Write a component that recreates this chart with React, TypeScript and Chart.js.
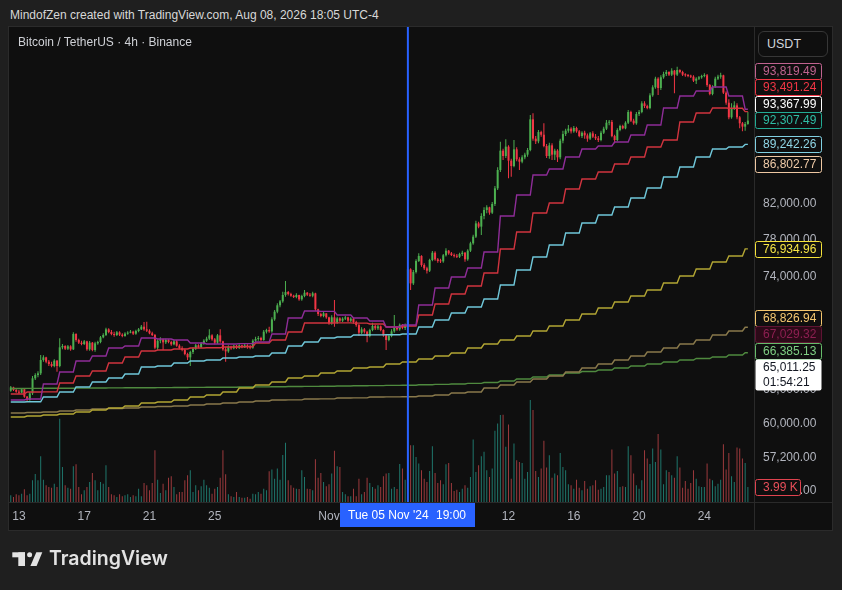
import React, { useEffect, useRef } from "react";
import { Chart, registerables } from "chart.js";

Chart.register(...registerables);

// ---------- DATA (BTCUSDT 4h, Binance) ----------
const firstOpen = 62902;

const closes = [
  63202, 62961, 62813, 62724, 63021, 62369, 62073, 62665, 64014, 64319,
  64471, 65702, 65953, 65548, 65331, 65145, 65640, 65145, 66895, 67023,
  66768, 66991, 66705, 68175, 67595, 67341, 67213, 67468, 66705, 67341,
  66641, 67277, 67404, 67853, 68079, 68627, 68369, 68175, 68079, 68337,
  68111, 67982, 68208, 68304, 68401, 68208, 68466, 68627, 68889, 68627,
  68498, 68240, 68079, 66864, 67531, 67660, 67372, 67595, 67404, 67181,
  67468, 67055, 66832, 66641, 66266, 65953, 66453, 66768, 67087, 66927,
  67277, 67531, 67724, 68047, 67660, 67341, 68047, 67468, 66705, 66516,
  66959, 66800, 67055, 66832, 67087, 66895, 67087, 66959, 66864, 67531,
  67692, 67789, 67595, 68399, 68562, 68431, 69609, 70370, 71014, 71411,
  72058, 72363, 72155, 71986, 71854, 72058, 71615, 71956, 72294, 72089,
  71986, 72226, 70606, 70139, 69941, 70206, 69808, 69211, 69808, 69277,
  69709, 69477, 69676, 69808, 69477, 69676, 69345, 69045, 68300, 68627,
  68399, 67982, 68562, 68955, 68725, 68922, 68562, 68047, 67595, 67982,
  68431, 68824, 68627, 69078, 68758, 69045, 74733, 73258, 74448, 75622,
  76170, 75196, 74840, 74591, 75730, 76520, 75802, 75622, 75586, 76243,
  76740, 76447, 76264, 76155, 76082, 76374, 76520, 75802, 76740, 77546,
  78283, 79775, 79404, 80615, 81304, 81614, 80996, 82003, 83846, 86057,
  88453, 87787, 88959, 87205, 86542, 88621, 87371, 87080, 87621, 87954,
  88537, 92480, 89975, 89633, 90827, 90479, 89043, 87787, 89128, 87954,
  88453, 87621, 89718, 90566, 91001, 91262, 90914, 91349, 90914, 90305,
  90740, 90392, 89975, 90653, 90230, 90017, 89804, 90740, 91262, 92040,
  92128, 90305, 89804, 91088, 91610, 91305, 92040, 93449, 92304, 91958,
  93184, 93449, 94602, 94242, 93981, 95688, 96782, 97980, 96690, 98167,
  98633, 98913, 98540, 99100, 98540, 99193, 98913, 98540, 98447, 98353,
  98260, 97700, 97980, 98167, 98353, 98447, 97103, 95872, 96874, 97980,
  98260, 98447, 96047, 94692, 92745, 93937, 94334, 92745, 91958, 91523,
  91872, 92307,
];

const highs = [
  63322, 63262, 63082, 62961, 63112, 63082, 62428, 62783, 64227, 64471,
  64654, 66172, 66140, 66015, 65702, 65548, 65765, 65702, 67756, 67213,
  67087, 67118, 67087, 68337, 68240, 67724, 67531, 67595, 67531, 67500,
  67404, 67436, 67531, 67982, 68240, 68791, 68726, 68562, 68401, 68466,
  68434, 68240, 68337, 68434, 68562, 68498, 68595, 68758, 69053, 69347,
  69380, 68627, 68401, 68175, 67660, 67853, 67724, 67724, 67660, 67531,
  67595, 67595, 67181, 66991, 66768, 66391, 66578, 66895, 67213, 67181,
  67404, 67660, 67917, 68627, 68143, 67788, 68175, 68627, 67531, 66959,
  67087, 67055, 67150, 67118, 67181, 67150, 67213, 67181, 67118, 67660,
  67917, 67982, 67917, 68562, 68693, 68889, 69808, 70538, 71218, 71547,
  72399, 73504, 72467, 72294, 72089, 72226, 72089, 72089, 72570, 72363,
  72260, 72399, 72294, 70673, 70272, 70339, 70206, 69875, 70007, 71547,
  69875, 69808, 69808, 69941, 69875, 69808, 69742, 69477, 69145, 68824,
  68758, 68497, 68693, 69280, 69078, 69045, 69012, 68627, 68170, 68170,
  68627, 70037, 68955, 69211, 69145, 69211, 74947, 74840, 74662, 75802,
  76463, 76243, 75374, 75018, 75874, 76703, 76667, 75946, 75874, 76389,
  76996, 76813, 76593, 76447, 76374, 76520, 76740, 76593, 76886, 77729,
  78507, 80077, 79966, 80920, 81614, 81850, 81693, 82231, 84123, 86385,
  89591, 88706, 89890, 89128, 87454, 89804, 88874, 87621, 87871, 88200,
  88790, 93053, 93277, 90317, 91088, 91001, 91958, 89292, 89462, 89380,
  88706, 88621, 89975, 91001, 91262, 91740, 91436, 91610, 91523, 91088,
  90914, 91001, 90653, 90827, 90914, 90566, 90305, 91001, 91523, 92392,
  92392, 92392, 90479, 91305, 91784, 91784, 92216, 93714, 93625, 92568,
  93449, 93714, 94873, 94873, 94423, 95960, 97063, 98260, 98167, 98448,
  98960, 99193, 99006, 99430, 99193, 99667, 99288, 99100, 98727, 98633,
  98540, 98447, 98167, 98353, 98540, 98727, 98633, 97240, 97057, 98260,
  98540, 98820, 98540, 96230, 95144, 94602, 94873, 94602, 92921, 92128,
  92128, 93490,
];

const lows = [
  62813, 62872, 62724, 62606, 62665, 62280, 61927, 62017, 62517, 63862,
  64105, 64319, 65548, 65393, 65145, 65022, 65022, 64623, 65022, 66705,
  66641, 66641, 66578, 66641, 67436, 67213, 67087, 67118, 66578, 66578,
  66516, 66485, 67150, 67277, 67756, 67982, 68240, 68047, 67917, 67982,
  67982, 67853, 67917, 68111, 68240, 68079, 68111, 68337, 68562, 68498,
  68369, 68143, 67982, 66705, 66641, 67277, 66641, 67213, 67277, 67055,
  67087, 66959, 66705, 66516, 66140, 65702, 65145, 66266, 66641, 66800,
  66832, 67150, 67404, 67595, 67531, 67181, 67213, 67341, 66578, 65548,
  66391, 66673, 66705, 66737, 66737, 66800, 66832, 66768, 66705, 66768,
  67402, 67531, 67466, 67531, 68235, 68300, 68300, 69477, 70206, 70807,
  71278, 71888, 72020, 71888, 71752, 71718, 71480, 71480, 71820, 71956,
  71888, 71820, 70471, 69941, 69808, 69808, 69676, 69079, 69079, 68889,
  69145, 69345, 69345, 69543, 69345, 69345, 69211, 68889, 67982, 68170,
  68235, 67370, 67853, 68431, 68562, 68562, 68431, 67917, 66641, 67466,
  67853, 68300, 68497, 68497, 68627, 68562, 68889, 72570, 73085, 74306,
  75513, 75018, 74662, 74306, 74448, 75586, 75658, 75445, 75409, 75445,
  76097, 76300, 76155, 76009, 75937, 75937, 76155, 75550, 75658, 76593,
  77399, 78135, 79215, 78461, 80233, 80920, 80768, 80844, 81771, 83647,
  85815, 87288, 87538, 85046, 85248, 86385, 87122, 86057, 86872, 87371,
  87705, 88368, 89718, 89292, 89380, 90230, 88874, 87538, 87454, 87288,
  87288, 87038, 87371, 89380, 90305, 90740, 90653, 90740, 90740, 90145,
  90060, 89975, 89590, 89804, 90060, 89804, 89548, 89633, 90566, 91088,
  91694, 90145, 89380, 89633, 90914, 91175, 91175, 91872, 92128, 91784,
  91784, 92920, 93272, 93981, 93803, 93803, 95507, 96598, 95733, 96414,
  97980, 98353, 98353, 98353, 95964, 98353, 98727, 98353, 98260, 98167,
  98073, 97513, 97233, 97793, 97980, 98167, 96874, 95691, 95691, 96690,
  97793, 97980, 95872, 94423, 92480, 92568, 93714, 92480, 91305, 90914,
  91001, 91784,
];

const volumes = [
  1780, 1330, 2050, 1780, 2210, 3380, 1780, 2210, 5770, 7450,
  5770, 12160, 5930, 4440, 3990, 3800, 4870, 3990, 22080, 9310,
  4440, 3800, 3540, 9500, 10030, 3990, 2050, 3110, 3990, 5320,
  7710, 5770, 3110, 5320, 4870, 9760, 3990, 2050, 1780, 1330,
  2050, 1520, 1780, 2050, 1330, 1780, 1520, 3540, 1520, 5050,
  4440, 3110, 5050, 13750, 5930, 2390, 4870, 3110, 6460, 6840,
  3990, 2050, 2660, 2660, 5770, 7100, 8430, 2660, 4440, 3110,
  4180, 5930, 4440, 3800, 2210, 3540, 3990, 6460, 13750, 7370,
  2050, 1520, 1330, 2660, 1330, 1140, 1140, 1330, 880, 2210,
  2050, 2660, 2210, 3540, 3110, 8170, 8590, 6200, 8860, 5930,
  12500, 15690, 5770, 4440, 3800, 3540, 3460, 8430, 6650, 3540,
  3460, 3110, 11360, 6460, 7710, 5320, 4180, 4710, 7530, 13570,
  9500, 9310, 2660, 2050, 1520, 1520, 3540, 1520, 6200, 2050,
  2660, 6460, 5050, 3990, 3540, 4440, 3990, 6840, 7530, 7710,
  3540, 3990, 3460, 10110, 8860, 5930, 27930, 15080, 15080, 11970,
  10190, 8430, 6200, 5320, 8250, 14820, 7710, 5050, 5770, 4710,
  10030, 10370, 5050, 2930, 3270, 2660, 3540, 4440, 3800, 6650,
  16570, 7980, 9760, 12160, 13300, 8430, 6650, 8860, 18890, 20830,
  23060, 23140, 14630, 20560, 6200, 15510, 11090, 10640, 10370, 6200,
  7980, 27050, 24390, 8250, 6650, 8860, 16230, 9120, 12420, 6460,
  7530, 7100, 13030, 9310, 8430, 4710, 4440, 3540, 5930, 3800,
  3110, 5590, 3540, 4180, 4440, 5770, 3270, 3540, 3990, 7100,
  7100, 13910, 7530, 8250, 3990, 4180, 3990, 14820, 12420, 7530,
  4440, 3540, 5770, 13750, 11520, 10110, 14180, 10640, 18010, 13910,
  4710, 8430, 7980, 7100, 6460, 12160, 9120, 3800, 5590, 3540,
  5050, 8430, 6200, 4180, 3990, 3990, 10190, 6200, 5770, 4180,
  4870, 5930, 15350, 8590, 13030, 6840, 5320, 14440, 14180, 11520,
  10370, 3990,
];

// daily moving averages (one value per day = 6 candles)
const candlesPerDay = 6;
const maPurple = [
  62073, 62160, 63502, 64592, 65609, 66078, 66832, 67023, 67788, 67692,
  67595, 67309, 67213, 67213, 67250, 67404, 68175, 69742, 70439, 70400,
  70040, 69742, 69445, 68856, 69052, 71042, 72778, 73925, 74876, 76595,
  80616, 83057, 85450, 86180, 87663, 88664, 89044, 89550, 90446, 91740,
  93982, 95598, 96278, 96828, 95598, 93819,
];
const maRed = [
  62606, 62783, 62800, 63592, 64227, 64684, 65424, 65984, 66547, 66641,
  66736, 66832, 66850, 66927, 66950, 67309, 67595, 68369, 69249, 69250,
  69260, 69240, 69151, 68856, 68955, 70040, 71143, 72161, 72986, 74346,
  76923, 78804, 80960, 82118, 83767, 84965, 85814, 86796, 87663, 88917,
  89804, 92131, 93317, 93982, 93950, 93491,
];
const maCyan = [
  61898, 61920, 62339, 62783, 63231, 63682, 64045, 64410, 65053, 65146,
  65424, 65609, 65702, 65890, 65984, 66078, 66359, 67023, 67402, 67788,
  67885, 68078, 68090, 68100, 68175, 68856, 69543, 70240, 70841, 71649,
  73090, 74662, 76055, 77362, 78692, 79818, 80731, 81653, 82703, 83886,
  85208, 86426, 87663, 88664, 88917, 89242,
];
const maYellow = [
  60594, 60680, 60766, 60852, 61025, 61197, 61372, 61547, 61810, 61898,
  62073, 62339, 62517, 62783, 63141, 63412, 63682, 64045, 64227, 64501,
  64684, 64960, 65053, 65331, 65516, 65796, 66078, 66359, 66832, 67213,
  67595, 67982, 68464, 68954, 69543, 70141, 70740, 71345, 71956, 72570,
  73297, 74030, 74769, 75513, 76163, 76935,
];
const maGold = [
  60938, 60981, 61025, 61111, 61197, 61285, 61328, 61372, 61460, 61503,
  61547, 61635, 61722, 61810, 61898, 61985, 62073, 62090, 62162, 62175,
  62251, 62260, 62339, 62350, 62360, 62428, 62517, 62695, 62783, 63141,
  63412, 63682, 63954, 64227, 64592, 64960, 65331, 65702, 66078, 66453,
  66832, 67213, 67595, 68078, 68464, 68827,
];
const maGreen = [
  63096, 63105, 63114, 63123, 63132, 63141, 63150, 63159, 63168, 63177,
  63186, 63195, 63204, 63213, 63231, 63240, 63258, 63276, 63285, 63303,
  63321, 63339, 63357, 63375, 63393, 63430, 63466, 63502, 63556, 63637,
  63772, 63954, 64136, 64319, 64501, 64638, 64775, 64960, 65146, 65331,
  65516, 65702, 65843, 65984, 66172, 66385,
];

const priceTicks = [54600, 57200, 60000, 63000, 74000, 78000, 82000];
const timeTickIndex = [3, 27, 51, 75, 117, 183, 207, 231, 255];
const timeTickLabels = ["13", "17", "21", "25", "Nov", "12", "16", "20", "24"];

const crossIndex = 146;
const crossDate = "Tue 05 Nov '24";
const crossTime = "19:00";

const axisLabelValues = [
  93819.49, 93491.24, 93367.99, 92307.49, 89242.26, 86802.77, 76934.96, 68826.94, 67029.32, 66385.13, 65011.25,
];
const countdown = "01:54:21";

// ---------- STYLE ----------
const FONT = '"Liberation Sans", Arial, sans-serif';
const UP = "#4caf50";
const DOWN = "#f23645";
const VOL_UP = "#1f776c";
const VOL_DOWN = "#9c3a3d";
const labelStyles = [
  { bd: "#c0638f", tx: "#c0638f", bg: "#0f0f0f" },
  { bd: "#f23645", tx: "#f23645", bg: "#0f0f0f" },
  { bd: "#ffffff", tx: "#ffffff", bg: "#0f0f0f" },
  { bd: "#22ab94", tx: "#2fbfa6", bg: "#0f0f0f" },
  { bd: "#80d0e2", tx: "#8fd6e6", bg: "#0f0f0f" },
  { bd: "#eec7a2", tx: "#f0cba8", bg: "#0f0f0f" },
  { bd: "#f5e23a", tx: "#f7e645", bg: "#0f0f0f" },
  { bd: "#f4c66e", tx: "#f6c870", bg: "#0f0f0f" },
  { bd: "#5e1433", tx: "#8e1f52", bg: "#2c0a18" },
  { bd: "#66bb6a", tx: "#7fcf83", bg: "#0f0f0f" },
  { bd: "#ffffff", tx: "#131722", bg: "#ffffff" },
];

const fmtPrice = (v: number) =>
  v.toLocaleString("en-US", { minimumFractionDigits: 2, maximumFractionDigits: 2 });

function maData(values: number[], last: number) {
  const pts: { x: number; y: number }[] = [];
  values.forEach((v, b) => {
    const s = b * candlesPerDay;
    const e = Math.min(s + candlesPerDay - 1, last);
    pts.push({ x: s, y: v });
    if (e > s) pts.push({ x: e, y: v });
  });
  return pts;
}

const overlay = {
  id: "tvOverlay",
  afterDraw(chart: any) {
    const { ctx, chartArea, scales } = chart;
    const yS = scales.y;
    const vS = scales.yv;
    ctx.save();
    // pane separators
    ctx.strokeStyle = "#2a2a2a";
    ctx.lineWidth = 1;
    ctx.beginPath();
    ctx.moveTo(chartArea.right + 0.5, 27);
    ctx.lineTo(chartArea.right + 0.5, 530);
    ctx.moveTo(9, chartArea.bottom + 0.5);
    ctx.lineTo(832, chartArea.bottom + 0.5);
    ctx.stroke();

    // crosshair
    const cx = scales.x.getPixelForValue(crossIndex);
    ctx.strokeStyle = "#2962ff";
    ctx.lineWidth = 2;
    ctx.beginPath();
    ctx.moveTo(cx, chartArea.top);
    ctx.lineTo(cx, chartArea.bottom);
    ctx.stroke();
    const bw = 135;
    const bl = Math.round(cx - bw / 2);
    ctx.fillStyle = "#2962ff";
    ctx.fillRect(bl, chartArea.bottom + 1, bw, 24);
    ctx.fillStyle = "#ffffff";
    ctx.font = `12px ${FONT}`;
    ctx.textBaseline = "middle";
    ctx.textAlign = "left";
    ctx.fillText(crossDate, bl + 8, chartArea.bottom + 13.5);
    ctx.textAlign = "right";
    ctx.fillText(crossTime, bl + bw - 9, chartArea.bottom + 13.5);
    ctx.textAlign = "left";

    // price labels with stacking
    const items = axisLabelValues.map((v, k) => ({
      k,
      v,
      c: yS.getPixelForValue(v),
      extra: k === axisLabelValues.length - 1 ? 15 : 0,
    }));
    const half = 8.25;
    const sorted = [...items].sort((a, b) => b.c - a.c);
    let limit = Infinity;
    for (const it of sorted) {
      const bottom = it.c + half + it.extra;
      if (bottom > limit) it.c -= bottom - limit;
      limit = it.c - half;
    }
    const x0 = chartArea.right + 1;
    ctx.font = `12px ${FONT}`;
    for (const it of items) {
      const st = labelStyles[it.k];
      const top = Math.round(it.c - half);
      const h = Math.round(2 * half + it.extra);
      ctx.fillStyle = st.bg;
      ctx.beginPath();
      ctx.roundRect(x0 + 0.5, top + 0.5, 66, h - 1, 2);
      ctx.fill();
      if (st.bg !== "#ffffff") {
        ctx.strokeStyle = st.bd;
        ctx.lineWidth = 1;
        ctx.stroke();
      }
      ctx.fillStyle = st.tx;
      ctx.fillText(fmtPrice(it.v), x0 + 8, top + 8.5);
      if (it.extra) ctx.fillText(countdown, x0 + 8, top + 8.5 + 15);
    }
    // volume label
    const lv = volumes[volumes.length - 1];
    const vy = vS.getPixelForValue(lv);
    const vt = Math.round(vy - half);
    ctx.fillStyle = "#0f0f0f";
    ctx.beginPath();
    ctx.roundRect(x0 + 0.5, vt + 0.5, 45, 16, 2);
    ctx.fill();
    ctx.strokeStyle = "#e0434f";
    ctx.stroke();
    ctx.fillStyle = "#ea4f5a";
    ctx.fillText(`${(lv / 1000).toFixed(2)} K`, x0 + 8, vt + 8.5);
    ctx.restore();
  },
};

export default function App() {
  const ref = useRef<HTMLCanvasElement | null>(null);

  useEffect(() => {
    const canvas = ref.current;
    if (!canvas) return;
    const last = closes.length - 1;
    const opens = closes.map((c, i) => (i === 0 ? firstOpen : closes[i - 1]));
    const isUp = closes.map((c, i) => c >= opens[i]);
    const bodies = closes.map((c, i) => ({ x: i, y: [Math.min(opens[i], c), Math.max(opens[i], c)] }));
    const wicks = closes.map((c, i) => ({ x: i, y: [lows[i], highs[i]] }));
    const vols = volumes.map((v, i) => ({ x: i, y: v }));
    const candleColors = isUp.map((u) => (u ? UP : DOWN));
    const volColors = isUp.map((u) => (u ? VOL_UP : VOL_DOWN));

    const line = (data: number[], color: string, order: number) => ({
      type: "line",
      data: maData(data, last),
      borderColor: color,
      borderWidth: 1.4,
      pointRadius: 0,
      fill: false,
      tension: 0,
      yAxisID: "y",
      xAxisID: "x",
      order,
    });

    const chart = new Chart(canvas, {
      type: "bar",
      data: {
        datasets: [
          line(maGreen, "#4f8a3f", 6),
          line(maGold, "#8a7a4c", 5),
          line(maYellow, "#b3a634", 4),
          line(maCyan, "#70c8da", 3),
          line(maRed, "#d1343f", 2),
          line(maPurple, "#8e2d98", 1),
          {
            type: "bar",
            data: bodies,
            backgroundColor: candleColors,
            barThickness: 2,
            minBarLength: 1,
            grouped: false,
            inflateAmount: 0,
            yAxisID: "y",
            xAxisID: "x",
            order: 7,
          },
          {
            type: "bar",
            data: wicks,
            backgroundColor: candleColors,
            barThickness: 1,
            grouped: false,
            inflateAmount: 0,
            yAxisID: "y",
            xAxisID: "x",
            order: 8,
          },
          {
            type: "bar",
            data: vols,
            backgroundColor: volColors,
            barThickness: 1,
            grouped: false,
            inflateAmount: 0,
            yAxisID: "yv",
            xAxisID: "x",
            order: 9,
          },
        ],
      } as any,
      options: {
        animation: false,
        responsive: false,
        events: [],
        layout: { padding: { left: 9, top: 27, right: 10, bottom: 60 } },
        plugins: { legend: { display: false }, tooltip: { enabled: false } },
        scales: {
          x: {
            type: "linear",
            min: -0.65,
            max: 273.25,
            offset: false,
            grid: { display: false, drawTicks: false },
            border: { display: false },
            ticks: {
              color: "#b2b5be",
              font: { size: 12, family: FONT },
              padding: 7,
              autoSkip: false,
              maxRotation: 0,
              callback: (v: any) => {
                const k = timeTickIndex.indexOf(Number(v));
                return k >= 0 ? timeTickLabels[k] : "";
              },
            },
            afterBuildTicks: (s: any) => {
              s.ticks = timeTickIndex.map((v) => ({ value: v }));
            },
            afterFit: (s: any) => {
              s.height = 28;
            },
          },
          y: {
            type: "logarithmic",
            position: "right",
            min: 53703,
            max: 105439,
            grid: { display: false, drawTicks: false },
            border: { display: false },
            ticks: {
              color: "#b2b5be",
              font: { size: 12, family: FONT },
              padding: 9,
              autoSkip: false,
              callback: (v: any) => fmtPrice(Number(v)),
            },
            afterBuildTicks: (s: any) => {
              s.ticks = priceTicks.map((v) => ({ value: v }));
            },
            afterFit: (s: any) => {
              s.width = 78;
            },
          },
          yv: {
            type: "linear",
            display: false,
            min: 0,
            max: 126000,
          },
        },
      } as any,
      plugins: [overlay],
    });
    return () => chart.destroy();
  }, []);

  return (
    <div
      style={{
        position: "fixed",
        left: 0,
        top: 0,
        width: 842,
        height: 590,
        background: "#1f1f1f",
        overflow: "hidden",
        fontFamily: FONT,
      }}
    >
      <div
        style={{
          position: "absolute",
          left: 10,
          top: 7,
          lineHeight: "16px",
          fontSize: 12,
          color: "#d8d8d8",
          whiteSpace: "nowrap",
        }}
      >
        MindofZen created with TradingView.com, Aug 08, 2026 18:05 UTC-4
      </div>
      <div
        style={{
          position: "absolute",
          left: 8,
          top: 26,
          width: 825,
          height: 505,
          background: "#0f0f0f",
          border: "1px solid #2b2b2b",
          boxSizing: "border-box",
        }}
      />
      <canvas
        ref={ref}
        width={842}
        height={590}
        style={{ position: "absolute", left: 0, top: 0, width: 842, height: 590 }}
      />
      <div
        style={{
          position: "absolute",
          left: 18,
          top: 34,
          lineHeight: "16px",
          fontSize: 12,
          color: "#cfd1d6",
          whiteSpace: "nowrap",
        }}
      >
        Bitcoin / TetherUS · 4h · Binance
      </div>
      <div
        style={{
          position: "absolute",
          left: 758,
          top: 31,
          width: 70,
          height: 26,
          boxSizing: "border-box",
          border: "1px solid #373737",
          borderRadius: 6,
          background: "#0f0f0f",
          color: "#d1d4dc",
          fontSize: 12.5,
          lineHeight: "24px",
          paddingLeft: 8,
        }}
      >
        USDT
      </div>
      <svg
        width={50}
        height={30}
        viewBox="0 0 50 30"
        style={{ position: "absolute", left: 0, top: 540 }}
      >
        <rect x={12.3} y={12.3} width={12.7} height={5} fill="#e3e3e3" />
        <rect x={18.3} y={12.3} width={6.7} height={13.7} fill="#e3e3e3" />
        <circle cx={29.6} cy={14.8} r={2.5} fill="#e3e3e3" />
        <polygon points="36.3,12.3 42.3,12.3 36.6,26 30.4,26" fill="#e3e3e3" />
      </svg>
      <div
        style={{
          position: "absolute",
          left: 49,
          top: 548,
          fontFamily: "Inter, sans-serif",
          fontWeight: 600,
          fontSize: 19.5,
          lineHeight: "20px",
          color: "#e3e3e3",
          whiteSpace: "nowrap",
        }}
      >
        TradingView
      </div>
    </div>
  );
}
